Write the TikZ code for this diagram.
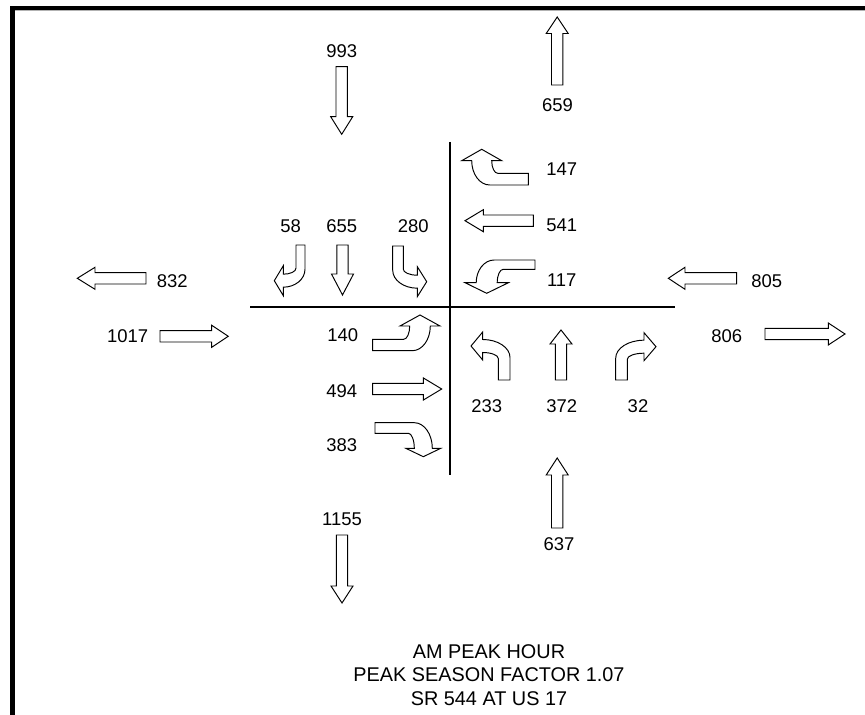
\documentclass[tikz,border=0pt]{standalone}
\usepackage{fontspec}
\setmainfont{Liberation Sans}
\usepackage{tikz}
\tikzset{
  frame/.style={line width=2.6pt, line cap=rect},
  road/.style={line width=1.4pt},
  arw/.style={draw, fill=white, line width=0.55pt, line join=miter},
  lbl/.style={font=\fontsize{10.5}{12.6}\selectfont, inner sep=0pt},
  note/.style={font=\fontsize{11.3}{13.5}\selectfont, align=center, inner sep=0pt},
  % straight block arrow: tip at origin, pointing up; #1 length, #2 head length
  pics/thru/.style n args={2}{code={
    \draw[arw] (0,0) -- (11,#2) -- (5.7,#2) -- (5.7,#1) -- (-5.7,#1)
      -- (-5.7,#2) -- (-11,#2) -- cycle;}},
  % turning block arrow: tip at origin, head up, tail to the right
  % #1 head half width, #2 head base, #3 head length, #4/#5 tail edges, #6 tail end
  pics/turn/.style n args={6}{code={
    \draw[arw] (0,0) -- (#1,#3) -- (#2,#3)
      .. controls (#2,{#3+0.55*(#4-#3)}) and ({#2+2.7},#4) .. ({#2+6},#4)
      -- (#6,#4) -- (#6,#5) -- ({18-#2},#5)
      .. controls ({8-#2},#5) and (-#2,{#3+0.55*(#5-#3)}) .. (-#2,#3)
      -- (-#1,#3) -- cycle;}},
}

\begin{document}
\begin{tikzpicture}[x={(0.02cm,0)}, y={(0,-0.02cm)}]
  \useasboundingbox (0,0) rectangle (865,715);
  \draw[frame] (12.5,720) -- (12.5,8) -- (870,8);
  \draw[gray!60, line width=0.5pt] (15,10.9) -- (870,10.9);
  % intersection
  \draw[road] (250,307) -- (675,307);
  \draw[road] (450,142) -- (450,475);
  % approach and departure totals
  \pic[rotate=180] at (341.7,134.3) {thru={67.6}{17.6}};
  \node[lbl] (sbIn) at (341.7,50.7) {993};
  \pic at (557.2,17) {thru={68}{16.5}};
  \node[lbl] (nbOut) at (557.5,105) {659};
  \pic[rotate=180] at (342,603) {thru={68}{17}};
  \node[lbl] (sbOut) at (342,519) {1155};
  \pic at (557.2,458) {thru={70}{17}};
  \node[lbl] (nbIn) at (559,544) {637};
  \pic[rotate=90] at (77.3,278.3) {thru={68.7}{17.7}};
  \node[lbl] (wbOut) at (172.3,280.7) {832};
  \pic[rotate=-90] at (228.3,336.3) {thru={68.3}{16.6}};
  \node[lbl] (ebIn) at (127.7,335.7) {1017};
  \pic[rotate=90] at (668.3,278.3) {thru={68.4}{16.7}};
  \node[lbl] (wbIn) at (766.7,280.7) {805};
  \pic[rotate=-90] at (845,334) {thru={80}{16.7}};
  \node[lbl] (ebOut) at (726.7,335.7) {806};
  % southbound movements
  \pic[rotate=90] at (274.3,280.7) {turn={15}{6.5}{9}{21.7}{30.7}{35.7}};
  \node[lbl] (sbR) at (290.7,226) {58};
  \pic[rotate=180] at (342.5,295) {thru={50}{21}};
  \node[lbl] (sbT) at (341.7,226) {655};
  \pic[rotate=-90, xscale=-1] at (426.7,281.7) {turn={15}{6.5}{9.4}{23.4}{34}{35.7}};
  \node[lbl] (sbL) at (413.3,226) {280};
  % westbound movements
  \pic at (481.7,149.3) {turn={20}{10}{11.4}{24}{35.7}{46.6}};
  \node[lbl] (wbR) at (561.7,169.3) {147};
  \pic[rotate=90] at (465,220.7) {thru={68.3}{18.3}};
  \node[lbl] (wbT) at (561.7,225) {541};
  \pic[yscale=-1] at (486.7,293.3) {turn={21.7}{10.5}{10.6}{24}{33.3}{48.3}};
  \node[lbl] (wbL) at (561.7,280) {117};
  % eastbound movements
  \pic[xscale=-1] at (420,315) {turn={20}{10.3}{11}{24.3}{35.7}{47.3}};
  \node[lbl] (ebL) at (342.7,335) {140};
  \pic[rotate=-90] at (441.7,389) {thru={69}{18.3}};
  \node[lbl] (ebT) at (341.7,390.7) {494};
  \pic[rotate=180] at (423.3,456.7) {turn={17.5}{9}{8.4}{23.4}{34}{48.3}};
  \node[lbl] (ebR) at (341.7,445) {383};
  % northbound movements
  \pic[rotate=90, xscale=-1] at (471,346) {turn={14}{6.5}{11.7}{27.3}{39}{34}};
  \node[lbl] (nbL) at (486.7,406) {233};
  \pic at (561,330) {thru={50}{14}};
  \node[lbl] (nbT) at (561.7,406) {372};
  \pic[rotate=-90] at (656,346.7) {turn={14}{6.5}{12}{28.7}{40.3}{33.3}};
  \node[lbl] (nbR) at (638,406) {32};
  % title block
  \node[note] (title) at (489,675) {AM PEAK HOUR\\PEAK SEASON FACTOR 1.07\\SR 544 AT US 17};
\end{tikzpicture}
\end{document}
